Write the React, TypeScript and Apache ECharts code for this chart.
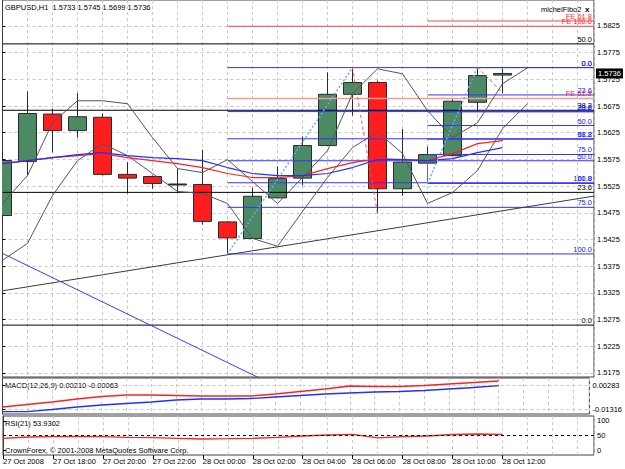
import React, { useEffect, useRef } from 'react';
import * as echarts from 'echarts';

const FONT = '"Liberation Sans", Arial, Helvetica, sans-serif';
const FS = 7.5;

// ---------- data ----------
const symbolTitle = 'GBPUSD,H1';
const timeLabels = ['27 Oct 2008', '27 Oct 18:00', '27 Oct 20:00', '27 Oct 22:00', '28 Oct 00:00', '28 Oct 02:00', '28 Oct 04:00', '28 Oct 06:00', '28 Oct 08:00', '28 Oct 10:00', '28 Oct 12:00'];
const timeLabelBars = [0, 2, 4, 6, 8, 10, 12, 14, 16, 18, 20];

const opens = [1.5470, 1.5571, 1.5660, 1.5629, 1.5654, 1.5547, 1.5543, 1.5529, 1.5528, 1.5458, 1.5427, 1.5503, 1.5540, 1.5601, 1.5697, 1.5719, 1.5520, 1.5568, 1.5582, 1.5682, 1.5733];
const highs = [1.5590, 1.5702, 1.5670, 1.5699, 1.5661, 1.5570, 1.5545, 1.5558, 1.5593, 1.5459, 1.5522, 1.5562, 1.5618, 1.5738, 1.5747, 1.5722, 1.5632, 1.5599, 1.5688, 1.5748, 1.5745];
const lows = [1.5455, 1.5545, 1.5588, 1.5616, 1.5545, 1.5511, 1.5520, 1.5512, 1.5453, 1.5398, 1.5426, 1.5503, 1.5526, 1.5601, 1.5657, 1.5474, 1.5507, 1.5535, 1.5582, 1.5666, 1.5699];
const closes = [1.5573, 1.5661, 1.5629, 1.5655, 1.5547, 1.5540, 1.5530, 1.5529, 1.5459, 1.5428, 1.5506, 1.5539, 1.5601, 1.5697, 1.5719, 1.5520, 1.5570, 1.5584, 1.5684, 1.5732, 1.5736];

const maRed = [1.55672, 1.55728, 1.55784, 1.55822, 1.55859, 1.55784, 1.55728, 1.55672, 1.55598, 1.55486, 1.55411, 1.55411, 1.55448, 1.55579, 1.55691, 1.55766, 1.55747, 1.55728, 1.55859, 1.56046, 1.56102];
const maBlue = [1.55672, 1.55728, 1.55784, 1.55841, 1.55878, 1.55822, 1.55784, 1.55766, 1.55728, 1.55598, 1.55486, 1.55448, 1.55448, 1.55486, 1.55598, 1.55747, 1.55747, 1.55728, 1.55766, 1.55878, 1.55971];

const channelA = [1.54925, 1.55448, 1.56438, 1.56849, 1.56849, 1.56793, 1.56158, 1.55579, 1.55504, 1.55747, 1.55336, 1.54925, 1.55411, 1.55915, 1.56980, 1.57447, 1.57353, 1.56662, 1.56158, 1.56438, 1.57167, 1.57466];
const channelB = [1.53861, 1.54178, 1.55075, 1.55728, 1.56046, 1.55822, 1.55486, 1.55150, 1.55112, 1.54925, 1.54272, 1.54122, 1.54776, 1.55411, 1.55971, 1.56270, 1.55859, 1.54925, 1.55131, 1.55542, 1.56326, 1.56793];

const macdRed = [-0.01183, -0.01016, -0.00850, -0.00650, -0.00483, -0.00383, -0.00383, -0.00417, -0.00450, -0.00450, -0.00450, -0.00317, -0.00150, 0.00017, 0.00216, 0.00183, 0.00183, 0.00250, 0.00350, 0.00450, 0.00550];
const macdBlue = [-0.01496, -0.01496, -0.01349, -0.01183, -0.01050, -0.00950, -0.00850, -0.00716, -0.00650, -0.00650, -0.00616, -0.00517, -0.00417, -0.00317, -0.00250, -0.00183, -0.00150, -0.00083, 0.00017, 0.00116, 0.00236];
const macdLabelValues = [0.00210, -0.00063];

const rsi = [40.3, 44.8, 45.9, 46.5, 45.9, 43.8, 42.4, 40.3, 37.9, 39.0, 40.3, 43.8, 48.3, 51.7, 54.1, 41.5, 45.9, 48.3, 53.4, 55.2, 53.9302];

const priceTicks = [1.5175, 1.5225, 1.5275, 1.5325, 1.5375, 1.5425, 1.5475, 1.5525, 1.5575, 1.5625, 1.5675, 1.5725, 1.5775, 1.5825];
const macdTicks = [-0.01316, 0.00283];
const rsiTicks = [0, 50, 100];

// Fibonacci objects
const fiboLevels = [0, 23.6, 38.2, 50, 61.8, 75, 100];
const fiboA = { start: 9, p0: 1.5747, p100: 1.5398 };
const fiboB = { start: 17, p0: 1.5747, p100: 1.5530 };
const fiboBlack = { start: 0, p0: 1.52647, p100: 1.63181 };
const feLines = [
  { text: 'FE 61.8', start: 17, price: 1.58343 },
  { text: 'FE 100.0', start: 9, price: 1.58244 },
  { text: 'FE 61.8', start: 9, price: 1.56892 },
];
const fiboAnchor = { bar: 17, top: 1.55729, bottom: 1.5530 };

// trend lines & zigzag
const trendBlack = [[0, 1.53289], [23.66, 1.55063]];
const trendBlue = [[0, 1.5399], [10.3, 1.5165]];
const zigzagUp = [[[9, 1.5398], [14, 1.5747]], [[17, 1.5530], [19, 1.5748]]];
const zigzagDown = [[[14, 1.5747], [15, 1.5474]], [[19, 1.5748], [20, 1.5699]]];

// ---------- layout constants ----------
const X_MAX = 23.66;
const P_MIN = 1.51675;
const P_MAX = 1.58736;

type Seg = { x0: number; price: number; color: string; text: string; labelColor: string; width: number };

function buildSegments(): Seg[] {
  const fmtLvl = (l: number) => l.toFixed(1);
  const segs: Seg[] = [];
  fiboLevels.forEach((l) => {
    const p = fiboBlack.p0 + (fiboBlack.p100 - fiboBlack.p0) * l / 100;
    if (p > P_MIN && p < P_MAX) segs.push({ x0: fiboBlack.start, price: p, color: '#000000', text: fmtLvl(l), labelColor: '#000000', width: 1 });
  });
  feLines.forEach((f, k) => {
    segs.push({ x0: f.start, price: f.price, color: k === 2 ? '#f39a9a' : '#ff4040', text: f.text, labelColor: '#ff2a2a', width: k === 2 ? 1.5 : 1 });
  });
  [fiboA, fiboB].forEach((f) => {
    fiboLevels.forEach((l) => {
      const p = f.p0 + (f.p100 - f.p0) * l / 100;
      segs.push({ x0: f.start, price: p, color: '#3333ff', text: fmtLvl(l), labelColor: '#1a1aff', width: 1 });
    });
  });
  return segs;
}

function staticGraphics() {
  const t = (x: number, y: number, text: string, extra: any = {}) => ({
    type: 'text', x, y, silent: true,
    style: { text, fontSize: FS, fontFamily: FONT, fill: '#000', textVerticalAlign: 'middle', ...extra },
  });
  return [
    t(5, 7, `${symbolTitle}  ${opens[20].toFixed(4)} ${highs[20].toFixed(4)} ${lows[20].toFixed(4)} ${closes[20].toFixed(4)}`),
    t(541, 9, 'michelFibo2'),
    t(585, 9, 'x', { fontSize: 8, fontWeight: 'bold' }),
    t(5, 385, `MACD(12,26,9) ${macdLabelValues[0].toFixed(5)} ${macdLabelValues[1].toFixed(5)}`),
    t(5, 423, `RSI(21) ${rsi[rsi.length - 1].toFixed(4)}`),
    t(5, 450, 'CrownForex, © 2001-2008 MetaQuotes Software Corp.'),
  ];
}

function buildOption(segs: Seg[]) {
  const grid = '#c8c8c8';
  const frame = '#404040';
  const xBase = (gi: number, position: string) => ({
    gridIndex: gi, type: 'value', min: 0, max: X_MAX, interval: 1, position,
    axisLine: { show: false }, axisTick: { show: false }, axisLabel: { show: false },
    splitLine: { show: true, lineStyle: { color: grid, type: [3, 3], width: 1 } },
  });
  const lbl = { fontSize: FS, fontFamily: FONT, color: '#000' };

  const candleData = opens.map((o, i) => [i, o, closes[i], lows[i], highs[i]]);
  const idx = (arr: number[]) => arr.map((v, i) => [i, v]);
  const L = (data: any, color: string, width: number, z: number, type: any = 'solid') => ({
    type: 'line', xAxisIndex: 0, yAxisIndex: 0, data, symbol: 'none', silent: true,
    lineStyle: { color, width, type }, z,
  });

  const series: any[] = [
    {
      type: 'custom', name: 'candles', xAxisIndex: 0, yAxisIndex: 0, clip: true,
      data: candleData, encode: { x: 0, y: [1, 2, 3, 4] },
      renderItem: (params: any, api: any) => {
        const i = api.value(0);
        const o = api.value(1), c = api.value(2), l = api.value(3), h = api.value(4);
        const pO = api.coord([i, o]);
        const pC = api.coord([i, c]);
        const pL = api.coord([i, l]);
        const pH = api.coord([i, h]);
        const w = api.size([1, 0])[0] * 0.72;
        const x = pO[0];
        const top = Math.min(pO[1], pC[1]);
        const bh = Math.max(Math.abs(pO[1] - pC[1]), 1);
        const fill = c > o ? '#4b8a63' : c < o ? '#ff1e1e' : '#2b2b2b';
        return {
          type: 'group',
          children: [
            { type: 'line', shape: { x1: x, y1: pH[1], x2: x, y2: pL[1] }, style: { stroke: '#2b2b2b', lineWidth: 1 } },
            { type: 'rect', shape: { x: x - w / 2, y: top, width: w, height: bh }, style: { fill, stroke: '#2b2b2b', lineWidth: 1 } },
          ],
        };
      },
      z: 2,
    },
    ...segs.map((s) => L([[s.x0, s.price], [X_MAX, s.price]], s.color, s.width, 3)),
    L([[fiboAnchor.bar, fiboAnchor.top], [fiboAnchor.bar, fiboAnchor.bottom]], '#5a5aff', 1, 3),
    L(trendBlack, '#3a3a3a', 1, 3),
    L(trendBlue, '#3c3cff', 1, 3),
    L(idx(channelA), '#555555', 1, 4),
    L(idx(channelB), '#555555', 1, 4),
    L(idx(maRed), '#ff2020', 1.2, 5),
    L(idx(maBlue), '#2030ff', 1.2, 5),
    ...zigzagUp.map((d) => L(d, '#6aa8ff', 1.5, 6, [2, 2])),
    ...zigzagDown.map((d) => L(d, '#ff4a4a', 1, 6, [3, 3])),
    {
      type: 'line', name: 'macdRed', xAxisIndex: 1, yAxisIndex: 1, data: idx(macdRed), symbol: 'none',
      lineStyle: { color: '#ff2020', width: 1.3 },
    },
    {
      type: 'line', name: 'macdBlue', xAxisIndex: 1, yAxisIndex: 1, data: idx(macdBlue), symbol: 'none',
      lineStyle: { color: '#2030ff', width: 1.3 },
    },
    {
      type: 'line', name: 'rsi', xAxisIndex: 2, yAxisIndex: 2, data: idx(rsi), symbol: 'none',
      lineStyle: { color: '#ff2020', width: 1.3 },
      markLine: {
        silent: true, symbol: ['none', 'none'], animation: false, label: { show: false },
        lineStyle: { color: '#000', type: [3, 3], width: 1 },
        data: [{ yAxis: 50 }],
      },
    },
  ];

  return {
    animation: false,
    backgroundColor: '#ffffff',
    textStyle: { fontFamily: FONT },
    grid: [
      { left: 2.5, right: 31, top: -1, height: 378, show: true, borderColor: frame, borderWidth: 1 },
      { left: 2.5, right: 31, top: 378, height: 36, show: true, borderColor: frame, borderWidth: 1 },
      { left: 2.5, right: 31, top: 416, height: 39, show: true, borderColor: frame, borderWidth: 1 },
    ],
    xAxis: [
      xBase(0, 'bottom'), xBase(1, 'bottom'), xBase(2, 'top'),
      {
        gridIndex: 2, type: 'value', min: 0, max: X_MAX, position: 'bottom',
        axisLine: { show: false },
        axisTick: { show: true, length: 4, customValues: timeLabelBars, lineStyle: { color: '#000' } },
        axisLabel: {
          show: true, align: 'left', margin: 2, customValues: timeLabelBars, ...lbl,
          formatter: (v: number) => {
            const k = timeLabelBars.indexOf(Math.round(v));
            return k >= 0 ? timeLabels[k] : '';
          },
        },
        splitLine: { show: false },
      },
    ],
    yAxis: [
      {
        gridIndex: 0, type: 'value', position: 'right', min: P_MIN, max: P_MAX,
        axisLine: { show: true, lineStyle: { color: frame } },
        axisTick: { show: true, length: 3, customValues: priceTicks, lineStyle: { color: '#000' } },
        axisLabel: { customValues: priceTicks, margin: 3, ...lbl, formatter: (v: number) => v.toFixed(4) },
        splitLine: { show: true, lineStyle: { color: grid, type: [3, 3] } },
      },
      {
        gridIndex: 1, type: 'value', position: 'right', min: -0.016491, max: 0.007494,
        axisLine: { show: true, lineStyle: { color: frame } },
        axisTick: { show: true, length: 3, customValues: macdTicks, lineStyle: { color: '#000' } },
        axisLabel: { customValues: macdTicks, margin: 3, ...lbl, formatter: (v: number) => v.toFixed(5) },
        splitLine: { show: true, lineStyle: { color: grid, type: [3, 3] } },
      },
      {
        gridIndex: 2, type: 'value', position: 'right', min: -17.2, max: 117.2,
        axisLine: { show: true, lineStyle: { color: frame } },
        axisTick: { show: true, length: 3, customValues: rsiTicks, lineStyle: { color: '#000' } },
        axisLabel: { customValues: rsiTicks, margin: 3, ...lbl, formatter: (v: number) => String(Math.round(v)) },
        splitLine: { show: false },
      },
    ],
    graphic: staticGraphics(),
    series,
  };
}

export default function App() {
  const ref = useRef<HTMLDivElement>(null);
  useEffect(() => {
    if (!ref.current) return;
    const chart = echarts.init(ref.current, undefined, { renderer: 'svg', width: 625, height: 469 });
    const segs = buildSegments();
    chart.setOption(buildOption(segs) as any);

    // object labels placed through the chart's own scales
    const labels: any[] = segs.map((s) => {
      const pt = chart.convertToPixel({ gridIndex: 0 } as any, [X_MAX, s.price]) as number[];
      return {
        type: 'text', x: pt[0] - 2, y: pt[1] - 0.5, silent: true, z: 50,
        style: { text: s.text, fontSize: FS, fontFamily: FONT, fill: s.labelColor, textAlign: 'right', textVerticalAlign: 'bottom' },
      };
    });
    const last = closes[closes.length - 1];
    const lp = chart.convertToPixel({ gridIndex: 0 } as any, [X_MAX, last]) as number[];
    labels.push({
      type: 'text', x: lp[0] + 2, y: lp[1], silent: true, z: 60,
      style: {
        text: last.toFixed(4), fontSize: FS, fontFamily: FONT, fill: '#ffffff', backgroundColor: '#000000',
        padding: [1, 2, 1, 2], textAlign: 'left', textVerticalAlign: 'middle',
      },
    });
    chart.setOption({ graphic: [...staticGraphics(), ...labels] } as any);
    return () => chart.dispose();
  }, []);
  return <div ref={ref} style={{ position: 'fixed', left: 0, top: 0, width: 625, height: 469, background: '#fff' }} />;
}
